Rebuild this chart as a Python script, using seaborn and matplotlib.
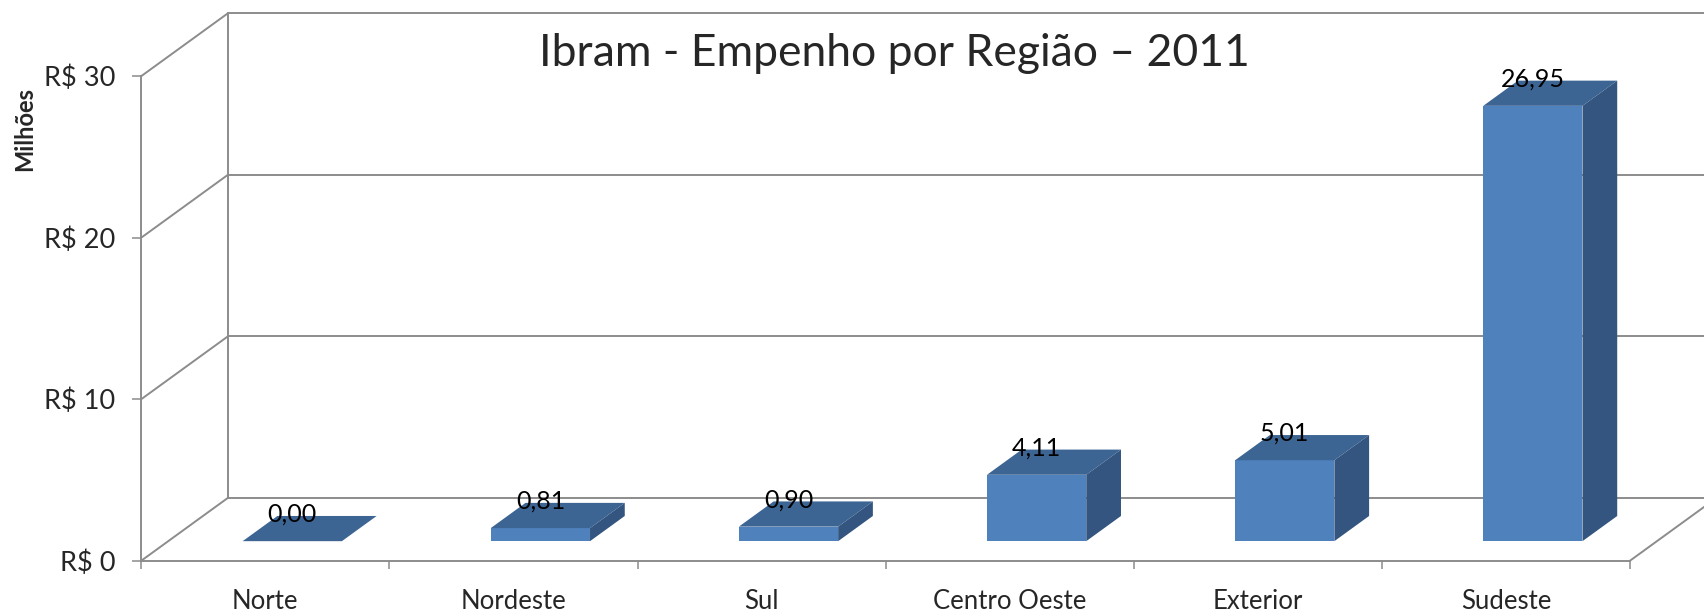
import matplotlib
matplotlib.use("Agg")
import matplotlib.pyplot as plt
import matplotlib.transforms as mtransforms
from matplotlib.patches import Polygon
import seaborn as sns
import pandas as pd

# ---- data ----
regions = ["Norte", "Nordeste", "Sul", "Centro Oeste", "Exterior", "Sudeste"]
values = [0.00, 0.81, 0.90, 4.11, 5.01, 26.95]
ytick_values = [0, 10, 20, 30]
ytick_labels = ["R$ 0", "R$ 10", "R$ 20", "R$ 30"]
title = "Ibram - Empenho por Região – 2011"
ylabel = "Milhões"

# ---- style ----
sns.set_theme(style="white")
plt.rcParams["font.family"] = ["Lato", "DejaVu Sans"]

FRONT = "#4F81BD"
TOP = "#3D6594"
SIDE = "#33557F"
GRID = "#8C8C8C"

DX, DY = 0.35, 3.9      # full depth offset (category units, value units)
D1, D2 = 0.31, 0.71     # bar depth range (fractions of full depth)

fig = plt.figure(figsize=(17.04, 6.11), dpi=100)
ax = fig.add_axes([141.3 / 1704, 1 - 560.7 / 611, (1630 - 141.3) / 1704, (560.7 - 76.1) / 611])

df = pd.DataFrame({"region": regions, "value": values})
sns.barplot(data=df, x="region", y="value", order=regions, width=0.4, color=FRONT,
            saturation=1, errorbar=None, linewidth=0, ax=ax)

ax.set_xlim(-0.5, len(regions) - 0.5)
ax.set_ylim(0, 30)

# back wall and gridlines
lw = 1.4
x_left, x_right = -0.5, len(regions) - 0.5
for yv in ytick_values:
    ax.plot([x_left + DX, x_right + DX + 1], [yv + DY, yv + DY], color=GRID, lw=lw,
            clip_on=False, zorder=0.5)
    ax.plot([x_left, x_left + DX], [yv, yv + DY], color=GRID, lw=lw, clip_on=False, zorder=0.5)
ax.plot([x_left + DX, x_left + DX], [DY, 30 + DY], color=GRID, lw=lw, clip_on=False, zorder=0.5)
ax.plot([x_right, x_right + DX], [0, DY], color=GRID, lw=lw, clip_on=False, zorder=0.5)

# 3D faces from the seaborn bars
ox1, oy1 = D1 * DX, D1 * DY
ox2, oy2 = D2 * DX, D2 * DY
bars = list(ax.patches)
for p, v in zip(bars, values):
    x0, w, h = p.get_x(), p.get_width(), p.get_height()
    p.set_transform(mtransforms.Affine2D().translate(ox1, oy1) + ax.transData)
    p.set_zorder(3)
    top = Polygon([(x0 + ox1, h + oy1), (x0 + w + ox1, h + oy1),
                   (x0 + w + ox2, h + oy2), (x0 + ox2, h + oy2)],
                  closed=True, facecolor=TOP, edgecolor="none", zorder=3, clip_on=False)
    ax.add_patch(top)
    if h > 0:
        side = Polygon([(x0 + w + ox1, oy1), (x0 + w + ox2, oy2),
                        (x0 + w + ox2, h + oy2), (x0 + w + ox1, h + oy1)],
                       closed=True, facecolor=SIDE, edgecolor="none", zorder=3, clip_on=False)
        ax.add_patch(side)
    ax.text(x0 + w / 2 + ox1, h + oy2 + 0.1, f"{v:.2f}".replace(".", ","),
            ha="center", va="center", fontsize=18, color="black", zorder=5, clip_on=False)

# axes styling
for s in ["top", "right"]:
    ax.spines[s].set_visible(False)
for s in ["left", "bottom"]:
    ax.spines[s].set_color(GRID)
    ax.spines[s].set_linewidth(lw)
    ax.spines[s].set_zorder(0.6)

ax.set_yticks(ytick_values, labels=ytick_labels)
ax.tick_params(axis="y", which="major", left=True, length=6.5, width=1.1, color=GRID,
               pad=12, labelsize=19.5)
ax.set_xticks(range(len(regions)), labels=regions)
ax.set_xticks([i - 0.5 for i in range(len(regions) + 1)], minor=True)
ax.tick_params(axis="x", which="major", bottom=False, length=0, pad=20.5, labelsize=18.5)
ax.tick_params(axis="x", which="minor", bottom=True, length=6, width=1.1, color=GRID)
ax.set_xlabel("")
ax.set_ylabel("")
ax.grid(False)

fig.text(25 / 1704, 1 - 129 / 611, ylabel, rotation=90, ha="center", va="center",
         fontsize=17, fontweight="bold")
fig.text(894 / 1704, 1 - 54 / 611, title, ha="center", va="center", fontsize=32)

fig.savefig("out.png", dpi=100, facecolor="white")
